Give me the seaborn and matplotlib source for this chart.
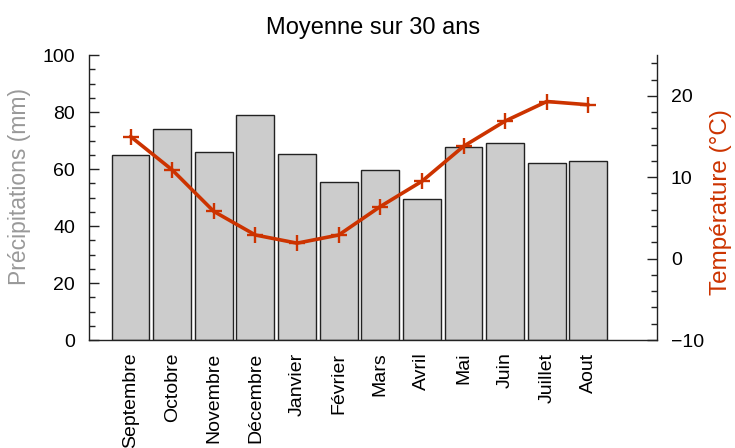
import matplotlib
matplotlib.use("Agg")
import matplotlib.pyplot as plt
from matplotlib.ticker import MultipleLocator
import seaborn as sns
import pandas as pd

# data
mois = ["Septembre", "Octobre", "Novembre", "Décembre", "Janvier", "Février",
        "Mars", "Avril", "Mai", "Juin", "Juillet", "Aout"]
precipitations = [65, 74, 66, 79, 65.4, 55.3, 59.5, 49.4, 67.6, 69.2, 62.3, 63]
temperatures = [15.0, 10.9, 5.8, 2.9, 1.9, 2.9, 6.4, 9.5, 13.8, 16.9, 19.3, 18.9]

df = pd.DataFrame({"mois": mois, "precip": precipitations,
                   "temp": temperatures, "idx": range(len(mois))})

sns.set_style("ticks")
plt.rcParams["font.family"] = ["Liberation Sans", "DejaVu Sans"]
plt.rcParams["text.color"] = "black"
plt.rcParams["xtick.labelcolor"] = "black"
plt.rcParams["ytick.labelcolor"] = "black"

fig = plt.figure(figsize=(7.35, 4.48), dpi=100)
ax = fig.add_axes([0.121, 0.241, 0.773, 0.636])

sns.barplot(data=df, x="mois", y="precip", color="#cccccc", saturation=1,
            edgecolor="#222222", linewidth=1, width=0.91, ax=ax)

ax2 = ax.twinx()
sns.lineplot(data=df, x="idx", y="temp", color="#cc3300", linewidth=2.6,
             marker="+", markersize=11, markeredgewidth=1.7,
             markeredgecolor="#cc3300", ax=ax2)

ax.set_xlim(-1.0, 12.65)
ax.set_ylim(0, 100)
ax2.set_ylim(-10, 25)

ax.yaxis.set_major_locator(MultipleLocator(20))
ax.yaxis.set_minor_locator(MultipleLocator(5))
ax2.yaxis.set_major_locator(MultipleLocator(10))
ax2.yaxis.set_minor_locator(MultipleLocator(2))

for a in (ax, ax2):
    a.spines["top"].set_visible(False)
    for s in a.spines.values():
        s.set_color("#222222")
        s.set_linewidth(1)
    a.tick_params(axis="y", which="major", direction="in", length=7.5,
                  width=1, labelsize=14, color="#222222", labelcolor="black", pad=10)
    a.tick_params(axis="y", which="minor", direction="in", length=4.5,
                  width=1, color="#222222")
ax2.spines["left"].set_visible(False)
ax2.spines["bottom"].set_visible(False)
ax.spines["right"].set_visible(False)

ax.tick_params(axis="x", length=0, labelsize=14, labelrotation=90, pad=9,
               labelcolor="black")
ax2.tick_params(axis="x", bottom=False, labelbottom=False)
ax2.set_yticks([-10, 0, 10, 20])

ax.set_xlabel("")
ax.set_ylabel("Précipitations (mm)", fontsize=16.5, color="#999999")
ax2.set_ylabel("Température (°C)", fontsize=17.5, color="#cc3300")
ax.yaxis.set_label_coords(-0.102, 0.54)
ax2.yaxis.set_label_coords(1.093, 0.484)
ax2.set_xlabel("")
ax.set_title("Moyenne sur 30 ans", fontsize=17, pad=15, color="black")

fig.savefig("out.png", dpi=100)
